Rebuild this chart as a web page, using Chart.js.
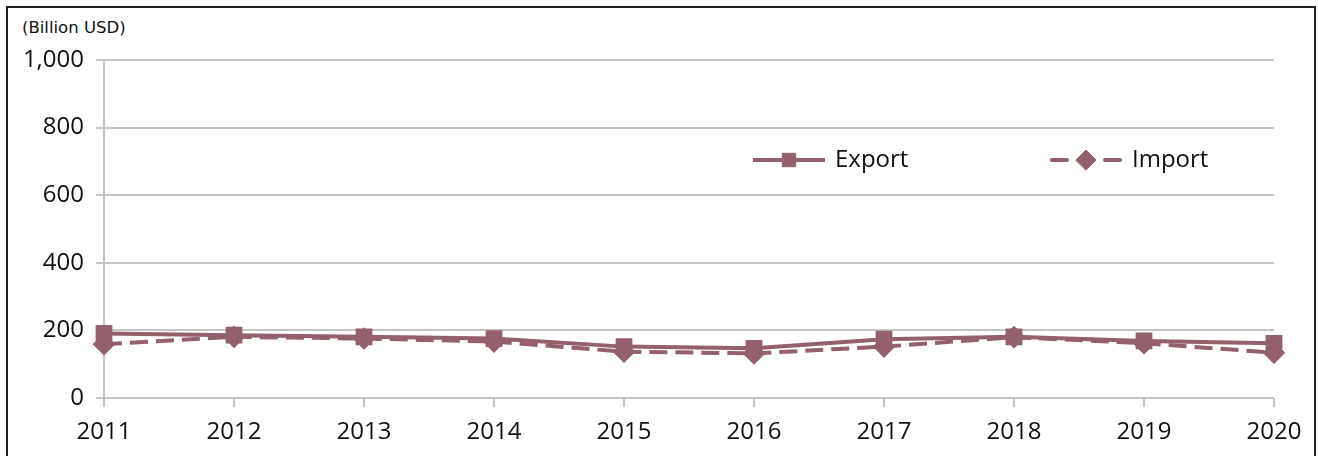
<!DOCTYPE html>
<html>
<head>
<meta charset="utf-8">
<script src="https://cdn.jsdelivr.net/npm/chart.js@4"></script>
<style>
    html, body { margin: 0; padding: 0; background: #fff; }
    .wrap { position: relative; width: 1318px; height: 456px; overflow: hidden; }
    .frame { position: absolute; left: 6px; top: 6px; width: 1310px; height: 470px; border: 2px solid #222; box-sizing: border-box; }
    .unit { position: absolute; left: 22px; top: 18px; font: 16.5px 'DejaVu Sans', sans-serif; color: #111; }
    canvas { position: absolute; left: 0; top: 0; }
</style>
</head>
<body>
<div class="wrap">
    <div class="frame"></div>
    <div class="unit">(Billion USD)</div>
    <canvas id="chart" width="1318" height="456"></canvas>
</div>
<script>
// data
const years = ['2011', '2012', '2013', '2014', '2015', '2016', '2017', '2018', '2019', '2020'];
const exportVals = [191, 186, 181, 176, 152, 147, 174, 181, 169, 162];
const importVals = [159, 181, 176, 167, 137, 132, 152, 180, 162, 134];
const yTicks = [0, 200, 400, 600, 800, 1000];

const lineColor = '#94606b';
const gridColor = '#c4c4c4';
const fontFamily = "'Open Sans', 'Noto Sans', sans-serif";

// legend drawn inside the plot area
const innerLegend = {
    id: 'innerLegend',
    afterDraw(chart) {
        const ctx = chart.ctx;
        const items = [
            { ds: chart.data.datasets[0], x: 753, r: 9.5 },
            { ds: chart.data.datasets[1], x: 1050, r: 10 }
        ];
        const y = 160;
        items.forEach(it => {
            ctx.save();
            ctx.strokeStyle = it.ds.borderColor;
            ctx.lineWidth = it.ds.borderWidth;
            if (it.ds.borderDash) {
                // dash - gap - marker - gap - dash
                ctx.lineCap = 'round';
                ctx.beginPath();
                ctx.moveTo(it.x + 2, y); ctx.lineTo(it.x + 17, y);
                ctx.moveTo(it.x + 55, y); ctx.lineTo(it.x + 70, y);
                ctx.stroke();
            } else {
                ctx.beginPath();
                ctx.moveTo(it.x, y);
                ctx.lineTo(it.x + 72, y);
                ctx.stroke();
            }
            ctx.fillStyle = it.ds.borderColor;
            ctx.lineWidth = 1;
            Chart.helpers.drawPoint(ctx, {
                pointStyle: it.ds.pointStyle,
                radius: it.r,
                borderWidth: 1
            }, it.x + 36, y);
            ctx.fillStyle = '#111';
            ctx.font = '24px ' + fontFamily;
            ctx.textBaseline = 'middle';
            ctx.fillText(it.ds.label, it.x + 82, y);
            ctx.restore();
        });
    }
};

const ctx = document.getElementById('chart');
new Chart(ctx, {
    type: 'line',
    data: {
        labels: years,
        datasets: [
            {
                label: 'Export', data: exportVals,
                borderColor: lineColor, backgroundColor: lineColor,
                borderWidth: 4, pointStyle: 'rect', pointRadius: 9,
                pointBorderColor: lineColor, pointBackgroundColor: lineColor,
                tension: 0
            },
            {
                label: 'Import', data: importVals,
                borderColor: lineColor, backgroundColor: lineColor,
                borderWidth: 4, borderDash: [18, 8], pointStyle: 'rectRot', pointRadius: 8.5,
                pointBorderColor: lineColor, pointBackgroundColor: lineColor,
                tension: 0
            }
        ]
    },
    options: {
        responsive: false,
        animation: false,
        layout: { padding: { left: 0, right: 44, top: 60, bottom: 0 } },
        plugins: { legend: { display: false }, tooltip: { enabled: false } },
        scales: {
            x: {
                offset: false,
                grid: { drawOnChartArea: false, drawTicks: true, tickLength: 9, color: gridColor, lineWidth: 2 },
                border: { display: false },
                ticks: { color: '#111', font: { family: fontFamily, size: 24 }, padding: 11, maxRotation: 0 },
                afterFit(scale) { scale.height = 58; }
            },
            y: {
                min: 0, max: 1000,
                afterBuildTicks(scale) { scale.ticks = yTicks.map(v => ({ value: v })); },
                grid: { color: gridColor, lineWidth: 2, tickLength: 8 },
                border: { color: gridColor, width: 2 },
                ticks: {
                    color: '#111', font: { family: fontFamily, size: 24 }, padding: 12,
                    callback: v => v.toLocaleString('en-US')
                },
                afterFit(scale) { scale.width = 104; }
            }
        }
    },
    plugins: [innerLegend]
});
</script>
</body>
</html>
